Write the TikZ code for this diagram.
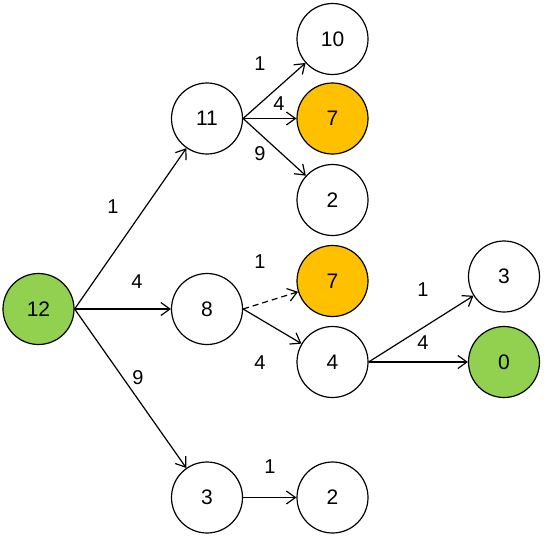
\documentclass[tikz,border=0pt]{standalone}
\usepackage{fontspec}
\setmainfont{Liberation Sans}
\usetikzlibrary{arrows.meta}
\definecolor{gr}{HTML}{92D050}
\definecolor{og}{HTML}{FFC000}
\begin{document}
\begin{tikzpicture}[x=1pt,y=-1pt,
  nd/.style={circle,draw,line width=1.2pt,minimum size=71pt,inner sep=0pt,font=\fontsize{21}{21}\selectfont},
  ed/.style={line width=1.2pt,-{Straight Barb[length=9pt,width=13pt,line width=1.2pt]}},
  lb/.style={font=\fontsize{20}{20}\selectfont,inner sep=0pt}]
\useasboundingbox (0,0) rectangle (548,538);
\node[nd,fill=gr] (n12) at (38.5,309) {12};
\node[nd] (n11) at (207,118.5) {11};
\node[nd] (n8) at (207,309) {8};
\node[nd] (n3) at (207,497.5) {3};
\node[nd] (n10) at (332.5,39) {10};
\node[nd,fill=og] (n7a) at (332.5,118.5) {7};
\node[nd] (n2a) at (332.5,200) {2};
\node[nd,fill=og] (n7b) at (332.5,281) {7};
\node[nd] (n4) at (332.5,362) {4};
\node[nd] (n2b) at (332.5,497.5) {2};
\node[nd] (n3b) at (504,276.5) {3};
\node[nd,fill=gr] (n0) at (504,362) {0};
\draw[ed] (n12.east) -- (n11);
\draw[ed] (n12.east) -- (n8);
\draw[ed] (n12.east) -- (n3);
\draw[ed] (n11.east) -- (n10);
\draw[ed] (n11.east) -- (n7a);
\draw[ed] (n11.east) -- (n2a);
\draw[ed,dash pattern=on 6pt off 4pt] (n8.east) -- (n7b);
\draw[ed] (n8.east) -- (n4);
\draw[ed] (n4.east) -- (n3b);
\draw[ed] (n4.east) -- (n0);
\draw[ed] (n3.east) -- (n2b);
\node[lb] (l1) at (113,207) {1};
\node[lb] (l2) at (137,282) {4};
\node[lb] (l3) at (138,378) {9};
\node[lb] (l4) at (260,64) {1};
\node[lb] (l5) at (279,104) {4};
\node[lb] (l6) at (260,154) {9};
\node[lb] (l7) at (260,262) {1};
\node[lb] (l8) at (260,363) {4};
\node[lb] (l9) at (423,290) {1};
\node[lb] (l10) at (423,343) {4};
\node[lb] (l11) at (270,467) {1};
\end{tikzpicture}
\end{document}
